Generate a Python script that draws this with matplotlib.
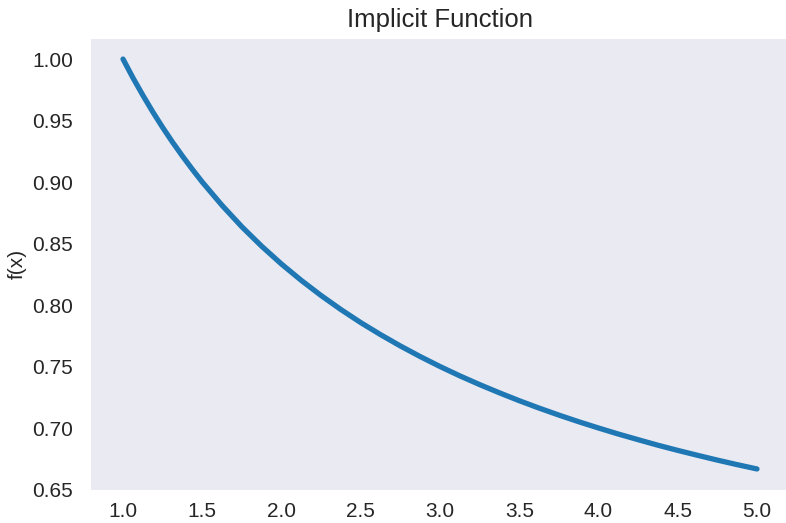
import matplotlib
matplotlib.use("Agg")
import matplotlib.pyplot as plt

# Sampled values of the implicit curve f(x)
x_vals = [1.0, 1.0625, 1.125, 1.1875, 1.25, 1.3125, 1.375, 1.4375, 1.5, 1.625,
          1.75, 1.875, 2.0, 2.125, 2.25, 2.375, 2.5, 2.625, 2.75, 2.875,
          3.0, 3.125, 3.25, 3.375, 3.5, 3.625, 3.75, 3.875, 4.0, 4.125,
          4.25, 4.375, 4.5, 4.625, 4.75, 4.875, 5.0]
f_vals = [1.0000, 0.9848, 0.9706, 0.9571, 0.9444, 0.9324, 0.9211, 0.9103, 0.9000, 0.8810,
          0.8636, 0.8478, 0.8333, 0.8200, 0.8077, 0.7963, 0.7857, 0.7759, 0.7667, 0.7581,
          0.7500, 0.7424, 0.7353, 0.7286, 0.7222, 0.7162, 0.7105, 0.7051, 0.7000, 0.6951,
          0.6905, 0.6860, 0.6818, 0.6778, 0.6739, 0.6702, 0.6667]

x_ticks = [1.0, 1.5, 2.0, 2.5, 3.0, 3.5, 4.0, 4.5, 5.0]
y_ticks = [0.65, 0.70, 0.75, 0.80, 0.85, 0.90, 0.95, 1.00]

plt.rcParams['font.family'] = ['Liberation Sans', 'DejaVu Sans']

W, H = 786, 523
fig = plt.figure(figsize=(W / 100, H / 100), dpi=100)
ax = fig.add_axes([91.3 / W, (H - 489.5) / H, 697.4 / W, 451.0 / H])
ax.set_facecolor('#EAEAF2')
for s in ax.spines.values():
    s.set_visible(False)

ax.plot(x_vals, f_vals, color='#1f77b4', linewidth=3.8,
        solid_capstyle='round', solid_joinstyle='round')

ax.set_xlim(0.8, 5.2)
ax.set_ylim(0.6503, 1.0167)
ax.set_xticks(x_ticks)
ax.set_xticklabels([f"{t:.1f}" for t in x_ticks])
ax.set_yticks(y_ticks)
ax.set_yticklabels([f"{t:.2f}" for t in y_ticks])
ax.tick_params(axis='both', length=0, labelsize=15, colors='#262626')
ax.tick_params(axis='y', pad=13)
ax.tick_params(axis='x', pad=9)

ax.set_ylabel('f(x)', fontsize=15, color='#262626', labelpad=4)
ax.set_title('Implicit Function', fontsize=18.5, color='#262626', pad=8)

fig.savefig('out.png', dpi=100)
